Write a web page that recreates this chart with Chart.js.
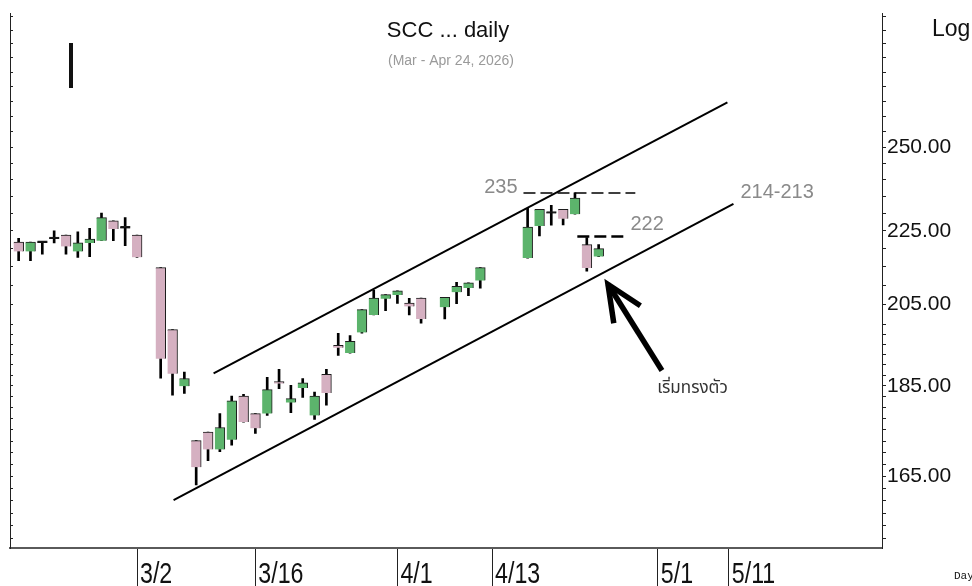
<!DOCTYPE html>
<html>
<head>
<meta charset="utf-8">
<script src="https://cdn.jsdelivr.net/npm/chart.js@4.4.1/dist/chart.umd.min.js"></script>
<style>
  html, body { margin: 0; padding: 0; background: #fff; }
  #wrap { width: 972px; height: 586px; }
</style>
</head>
<body>
<div id="wrap"><canvas id="sccDaily" width="972" height="586"></canvas></div>
<script>
// trading day slots (holidays left empty: 3/3, 4/6, 4/13-4/15)
var dayIndex   = [0, 1, 2, 3, 4, 5, 6, 7, 8, 9, 10, 12, 13, 14, 15, 16, 17, 18, 19, 20, 21, 22, 23, 24, 25, 26, 27, 28, 29, 30, 31, 32, 33, 34, 36, 37, 38, 39, 43, 44, 45, 46, 47, 48, 49];
var openPrice  = [221.8, 219.2, 221.6, 222.7, 223.8, 219.2, 221.6, 222.2, 227.9, 225.7, 223.8, 214.8, 198.6, 184.9, 172.6, 174.5, 170.7, 172.8, 182.6, 178.6, 178.6, 186.0, 181.1, 184.5, 178.2, 187.7, 194.7, 192.8, 197.9, 202.3, 206.5, 207.5, 205.4, 206.7, 204.3, 208.2, 209.3, 211.3, 217.4, 226.4, 230.0, 231.2, 229.8, 221.1, 217.8];
var highPrice  = [222.9, 221.8, 221.6, 225.0, 223.8, 224.7, 225.7, 230.1, 227.9, 228.8, 223.8, 214.8, 198.6, 188.2, 172.6, 174.5, 178.6, 182.6, 183.0, 178.6, 187.0, 188.9, 185.1, 186.7, 183.5, 188.9, 197.7, 197.1, 203.7, 208.8, 207.6, 208.6, 206.6, 206.7, 206.9, 210.8, 210.7, 214.8, 231.5, 231.2, 232.4, 231.2, 236.1, 223.1, 221.1];
var lowPrice   = [216.7, 216.7, 218.5, 221.6, 218.5, 217.6, 217.8, 222.2, 222.2, 220.8, 217.6, 186.8, 182.8, 183.2, 163.2, 168.3, 170.2, 171.6, 176.7, 174.2, 178.2, 184.3, 178.8, 182.3, 177.3, 180.5, 192.2, 192.8, 197.7, 202.3, 203.4, 205.3, 202.3, 200.2, 201.3, 205.2, 207.3, 209.3, 217.4, 223.6, 226.6, 226.7, 229.8, 213.8, 217.8];
var closePrice = [219.2, 221.8, 221.6, 222.7, 220.6, 221.6, 222.7, 228.8, 225.5, 225.7, 217.6, 191.4, 187.8, 186.7, 166.9, 170.7, 175.5, 181.5, 176.7, 175.3, 184.1, 185.5, 182.0, 185.7, 182.6, 183.3, 194.1, 195.7, 203.7, 206.7, 207.6, 208.6, 204.5, 201.3, 206.9, 209.8, 210.7, 214.8, 226.1, 231.2, 230.0, 228.5, 234.5, 214.7, 220.0];

// date ticks on the x axis
var dateTickIndex = [10, 20, 32, 40, 54, 60];
var dateTickText  = ['3/2', '3/16', '4/1', '4/13', '5/1', '5/11'];

// price ticks on the right axis
var priceLabels = [165, 185, 205, 225, 250];

// drawn trend lines, as [slot, price] pairs
var upperChannel = [[16.47, 187.9], [59.88, 264.7]];
var lowerChannel = [[13.09, 160.1], [60.39, 232.8]];
var resist235    = [[42.65, 236.0], [52.1, 236.0]];
var support222   = [[47.2, 223.4], [51.4, 223.4]];
var arrowShaft   = [[54.35, 188.6], [49.79, 210.3]];
var arrowHead    = [[50.28, 200.2], [49.79, 210.3], [52.53, 204.7]];

// notes written on the chart
var noteText  = ['235', '222', '214-213', 'เริ่มทรงตัว'];
var noteSlot  = [42.15, 51.69, 60.98, 56.93];
var notePrice = [237.8, 226.7, 236.3, 184.2];

function toPoints(pairs) {
    'use strict';
    return pairs.map(function(p) { return {x: p[0], y: p[1]}; });
}

function minorTicks() {
    'use strict';
    var list = [];
    var v;
    for (v = 152.5; v < 200; v += 2.5) { list.push(v); }
    for (v = 200; v <= 295; v += 5) { list.push(v); }
    priceLabels.forEach(function(p) { if (list.indexOf(p) < 0) { list.push(p); } });
    return list.sort(function(a, b) { return a - b; });
}

var wickData = [], bodyData = [], bodyColors = [];
for (var k = 0; k < dayIndex.length; k++) {
    wickData.push({x: dayIndex[k], y: [lowPrice[k], highPrice[k]]});
    bodyData.push({x: dayIndex[k], y: [openPrice[k], closePrice[k]]});
    if (closePrice[k] > openPrice[k]) {
        bodyColors.push('#5cb46c');
    } else if (closePrice[k] < openPrice[k]) {
        bodyColors.push('#d5b0c1');
    } else {
        bodyColors.push('#111111');
    }
}

function lineSet(pairs, width, dash) {
    'use strict';
    return {
        type: 'line',
        data: toPoints(pairs),
        borderColor: '#000',
        borderWidth: width,
        borderDash: dash || [],
        borderJoinStyle: 'miter',
        pointRadius: 0,
        fill: false,
        tension: 0,
        order: -1,
        xAxisID: 'x',
        yAxisID: 'y'
    };
}

var overlayText = {
    id: 'overlayText',
    afterDraw: function(chart) {
        'use strict';
        var ctx = chart.ctx;
        var xs = chart.scales.x, ys = chart.scales.y;
        ctx.save();

        ctx.textBaseline = 'middle';
        ctx.fillStyle = '#111';
        ctx.textAlign = 'center';
        ctx.font = '22px "Liberation Sans", Arial, sans-serif';
        ctx.fillText('SCC ... daily', 448, 31);
        ctx.fillStyle = '#9a9a9a';
        ctx.font = '14px "Liberation Sans", Arial, sans-serif';
        ctx.fillText('(Mar - Apr 24, 2026)', 451, 61);

        ctx.fillStyle = '#111';
        ctx.textAlign = 'left';
        ctx.font = '23px "Liberation Sans", Arial, sans-serif';
        ctx.fillText('Log', 932, 30);
        ctx.font = '11px "Liberation Mono", "DejaVu Sans Mono", monospace';
        ctx.fillText('Day', 954, 576);

        // cursor mark top left
        ctx.fillRect(69, 43, 4, 45);

        // date labels, narrow face squeezed from a regular one
        ctx.textBaseline = 'top';
        ctx.font = '29px "Liberation Sans", Arial, sans-serif';
        dateTickIndex.forEach(function(v, n) {
            ctx.save();
            ctx.translate(xs.getPixelForValue(v) + 3, 560);
            ctx.scale(0.8, 1);
            ctx.fillText(dateTickText[n], 0, 0);
            ctx.restore();
        });

        ctx.textBaseline = 'middle';
        for (var n = 0; n < noteText.length; n++) {
            var px = xs.getPixelForValue(noteSlot[n]);
            var py = ys.getPixelForValue(notePrice[n]);
            if (n === 3) {
                ctx.fillStyle = '#333';
                ctx.textAlign = 'center';
                ctx.font = '17px "Noto Sans Thai", Tahoma, "Noto Sans", sans-serif';
            } else {
                ctx.fillStyle = '#8a8a8a';
                ctx.textAlign = n === 0 ? 'right' : 'left';
                ctx.font = '20px "Liberation Sans", Arial, sans-serif';
            }
            ctx.fillText(noteText[n], px, py);
        }
        ctx.restore();
    }
};

var allTicks = minorTicks();

new Chart(document.getElementById('sccDaily').getContext('2d'), {
    type: 'bar',
    data: {
        datasets: [
            lineSet(upperChannel, 2),
            lineSet(lowerChannel, 2),
            lineSet(resist235, 1.5, [12, 5]),
            lineSet(support222, 2.5, [12, 5]),
            lineSet(arrowShaft, 5.5),
            lineSet(arrowHead, 5.5),
            {
                label: 'body',
                data: bodyData,
                backgroundColor: bodyColors,
                borderColor: '#1c1c1c',
                borderWidth: {top: 1, right: 1, bottom: 0, left: 0},
                borderSkipped: false,
                barThickness: 10,
                minBarLength: 2,
                grouped: false,
                order: 1,
                xAxisID: 'x',
                yAxisID: 'y'
            },
            {
                label: 'wick',
                data: wickData,
                backgroundColor: '#000',
                barThickness: 2,
                grouped: false,
                order: 2,
                xAxisID: 'x',
                yAxisID: 'y'
            }
        ]
    },
    options: {
        responsive: false,
        animation: false,
        devicePixelRatio: 1,
        layout: { padding: { top: 12, left: 0, right: 0, bottom: 0 } },
        plugins: {
            legend: { display: false },
            tooltip: { enabled: false }
        },
        scales: {
            x: {
                type: 'linear',
                position: 'bottom',
                min: -0.73,
                max: 72.94,
                offset: false,
                afterBuildTicks: function(scale) {
                    scale.ticks = dateTickIndex.map(function(v) { return {value: v}; });
                },
                afterFit: function(scale) { scale.height = 38; },
                ticks: { display: false },
                grid: {
                    offset: false,
                    drawOnChartArea: false,
                    drawTicks: true,
                    tickLength: 38,
                    color: '#222',
                    lineWidth: 1
                },
                border: { display: true, color: '#5a5a5a', width: 2 }
            },
            y: {
                type: 'logarithmic',
                position: 'right',
                min: 150.7,
                max: 296.1,
                afterBuildTicks: function(scale) {
                    scale.ticks = allTicks.map(function(v) { return {value: v}; });
                },
                afterFit: function(scale) { scale.width = 90; },
                ticks: {
                    autoSkip: false,
                    padding: 1,
                    color: '#111',
                    font: { family: '"Liberation Sans", Arial, sans-serif', size: 21 },
                    callback: function(value) {
                        return priceLabels.indexOf(value) < 0 ? '' : value.toFixed(2);
                    }
                },
                grid: {
                    drawOnChartArea: false,
                    drawTicks: true,
                    tickLength: 4,
                    color: '#222'
                },
                border: { display: true, color: '#222', width: 1 }
            },
            yl: {
                type: 'logarithmic',
                position: 'left',
                min: 150.7,
                max: 296.1,
                afterBuildTicks: function(scale) {
                    scale.ticks = allTicks.map(function(v) { return {value: v}; });
                },
                afterFit: function(scale) { scale.width = 10; },
                ticks: { display: false },
                grid: {
                    drawOnChartArea: false,
                    drawTicks: true,
                    tickLength: -3,
                    color: '#222'
                },
                border: { display: true, color: '#222', width: 1 }
            }
        }
    },
    plugins: [overlayText]
});
</script>
</body>
</html>
